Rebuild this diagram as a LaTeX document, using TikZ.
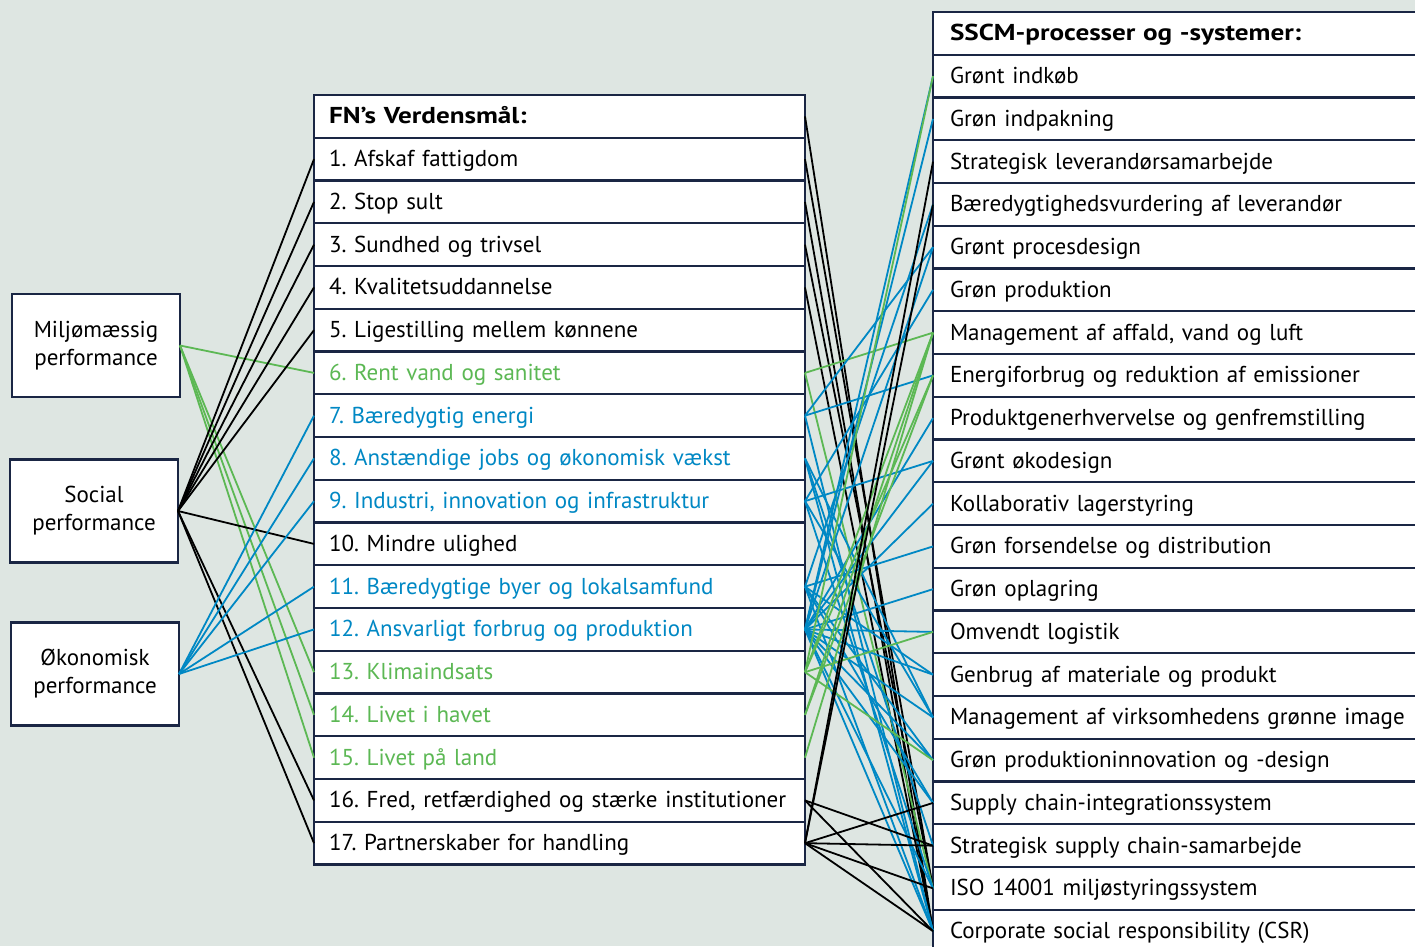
\documentclass[tikz,border=0pt]{standalone}
\usepackage{fontspec}
\setmainfont{PT Sans}
\usepackage{tikz}
\usetikzlibrary{positioning}
\pgfdeclarelayer{back}
\pgfsetlayers{back,main}

\definecolor{navy}{RGB}{26,38,68}
\definecolor{sdggreen}{RGB}{92,184,84}
\definecolor{sdgblue}{RGB}{0,136,196}
\definecolor{paper}{RGB}{222,230,226}
\newcommand{\rowfont}{\fontsize{23}{28}\selectfont\frenchspacing}
\newcommand{\headtxt}[1]{{\bfseries\addfontfeature{FakeStretch=1.18}#1}}

\tikzset{
  rowbox/.style={draw=navy, line width=2.4pt, fill=white, outer sep=0pt, inner xsep=15pt, inner ysep=0pt,
    minimum height=42.75pt, text height=18pt, text depth=3pt, align=left, font=\rowfont},
  fnrow/.style={rowbox, text width=461pt},
  ssrow/.style={rowbox, inner xsep=17pt, text width=490pt},
  dimbox/.style={draw=navy, line width=2.4pt, fill=white, outer sep=0pt, minimum width=168pt,
    minimum height=103pt, align=center, font=\rowfont},
  blackline/.style={draw=black, line width=1.8pt},
  greenline/.style={draw=sdggreen, line width=1.8pt},
  blueline/.style={draw=sdgblue, line width=1.8pt}
}

\begin{document}
\begin{tikzpicture}[x=1pt, y=-1pt]
	\useasboundingbox (0,0) rectangle (1415,946);
	\begin{pgfonlayer}{back}
		\fill [paper] (0,0) rectangle (1415,946);
	\end{pgfonlayer}
	\clip (0,0) rectangle (1415,946);
	
	% dimensioner
	\node [dimbox] (miljo) at (96,345.5) {Miljømæssig\\ performance};
	\node [dimbox] (social) at (94,511) {Social\\ performance};
	\node [dimbox] (okonomi) at (95,674) {Økonomisk\\ performance};
	
	% verdensmaal
	\node [fnrow, anchor=west] (fn0) at (314,116.4) {\headtxt{FN’s Verdensmål:}};
	\node [fnrow, below=0pt of fn0] (fn1) {1. Afskaf fattigdom};
	\node [fnrow, below=0pt of fn1] (fn2) {2. Stop sult};
	\node [fnrow, below=0pt of fn2] (fn3) {3. Sundhed og trivsel};
	\node [fnrow, below=0pt of fn3] (fn4) {4. Kvalitetsuddannelse};
	\node [fnrow, below=0pt of fn4] (fn5) {5. Ligestilling mellem kønnene};
	\node [fnrow, below=0pt of fn5, text=sdggreen] (fn6) {6. Rent vand og sanitet};
	\node [fnrow, below=0pt of fn6, text=sdgblue] (fn7) {7. Bæredygtig energi};
	\node [fnrow, below=0pt of fn7, text=sdgblue] (fn8) {8. Anstændige jobs og økonomisk vækst};
	\node [fnrow, below=0pt of fn8, text=sdgblue] (fn9) {9. Industri, innovation og infrastruktur};
	\node [fnrow, below=0pt of fn9] (fn10) {10. Mindre ulighed};
	\node [fnrow, below=0pt of fn10, text=sdgblue] (fn11) {11. Bæredygtige byer og lokalsamfund};
	\node [fnrow, below=0pt of fn11, text=sdgblue] (fn12) {12. Ansvarligt forbrug og produktion};
	\node [fnrow, below=0pt of fn12, text=sdggreen] (fn13) {13. Klimaindsats};
	\node [fnrow, below=0pt of fn13, text=sdggreen] (fn14) {14. Livet i havet};
	\node [fnrow, below=0pt of fn14, text=sdggreen] (fn15) {15. Livet på land};
	\node [fnrow, below=0pt of fn15] (fn16) {16. Fred, retfærdighed og stærke institutioner};
	\node [fnrow, below=0pt of fn16] (fn17) {17. Partnerskaber for handling};
	
	% sscm
	\node [ssrow, anchor=west] (ss0) at (933,33.4) {\headtxt{SSCM-processer og -systemer:}};
	\node [ssrow, below=0pt of ss0] (ss1) {Grønt indkøb};
	\node [ssrow, below=0pt of ss1] (ss2) {Grøn indpakning};
	\node [ssrow, below=0pt of ss2] (ss3) {Strategisk leverandørsamarbejde};
	\node [ssrow, below=0pt of ss3] (ss4) {Bæredygtighedsvurdering af leverandør};
	\node [ssrow, below=0pt of ss4] (ss5) {Grønt procesdesign};
	\node [ssrow, below=0pt of ss5] (ss6) {Grøn produktion};
	\node [ssrow, below=0pt of ss6] (ss7) {Management af affald, vand og luft};
	\node [ssrow, below=0pt of ss7] (ss8) {Energiforbrug og reduktion af emissioner};
	\node [ssrow, below=0pt of ss8] (ss9) {Produktgenerhvervelse og genfremstilling};
	\node [ssrow, below=0pt of ss9] (ss10) {Grønt økodesign};
	\node [ssrow, below=0pt of ss10] (ss11) {Kollaborativ lagerstyring};
	\node [ssrow, below=0pt of ss11] (ss12) {Grøn forsendelse og distribution};
	\node [ssrow, below=0pt of ss12] (ss13) {Grøn oplagring};
	\node [ssrow, below=0pt of ss13] (ss14) {Omvendt logistik};
	\node [ssrow, below=0pt of ss14] (ss15) {Genbrug af materiale og produkt};
	\node [ssrow, below=0pt of ss15] (ss16) {Management af virksomhedens grønne image};
	\node [ssrow, below=0pt of ss16] (ss17) {Grøn produktioninnovation og -design};
	\node [ssrow, below=0pt of ss17] (ss18) {Supply chain-integrationssystem};
	\node [ssrow, below=0pt of ss18] (ss19) {Strategisk supply chain-samarbejde};
	\node [ssrow, below=0pt of ss19] (ss20) {ISO 14001 miljøstyringssystem};
	\node [ssrow, below=0pt of ss20] (ss21) {Corporate social responsibility (CSR)};
	
	% venstre side
	\draw [greenline] (miljo.east) edge (fn6.west) edge (fn13.west) edge (fn14.west) edge (fn15.west);
	\draw [blackline] (social.east) edge (fn1.west) edge (fn2.west) edge (fn3.west) edge (fn4.west) edge (fn5.west) edge (fn10.west) edge (fn16.west) edge (fn17.west);
	\draw [blueline] (okonomi.east) edge (fn7.west) edge (fn8.west) edge (fn9.west) edge (fn11.west) edge (fn12.west);
	
	% hoejre side
	\draw [blackline] (fn0.east) -- (ss21.west);
	\draw [blackline] (fn1.east) -- (ss20.west);
	\draw [blackline] (fn2.east) -- (ss21.west);
	\draw [blackline] (fn3.east) -- (ss20.west);
	\draw [blackline] (fn4.east) -- (ss21.west);
	\draw [greenline] (fn6.east) edge (ss7.west) edge (ss20.west);
	\draw [blueline] (fn7.east) edge (ss8.west) edge (ss5.west) edge (ss21.west);
	\draw [blueline] (fn8.east) edge (ss16.west) edge (ss19.west) edge (ss21.west);
	\draw [blueline] (fn9.east) edge (ss10.west) edge (ss6.west) edge (ss16.west) edge (ss20.west);
	\draw [blueline] (fn11.east) edge (ss4.west) edge (ss12.west) edge (ss15.west) edge (ss17.west) edge (ss18.west) edge (ss21.west);
	\draw [blueline] (fn12.east) edge (ss1.west) edge (ss2.west) edge (ss5.west) edge (ss9.west) edge (ss10.west) edge (ss11.west) edge (ss13.west) edge (ss14.west) edge (ss15.west) edge (ss16.west) edge (ss17.west) edge (ss18.west) edge (ss20.west) edge (ss21.west);
	\draw [greenline] (fn13.east) edge (ss1.west) edge (ss7.west) edge (ss8.west) edge (ss14.west) edge (ss17.west);
	\draw [greenline] (fn14.east) edge (ss7.west) edge (ss8.west);
	\draw [greenline] (fn15.east) edge (ss7.west);
	\draw [blackline] (fn16.east) edge (ss19.west) edge (ss21.west);
	\draw [blackline] (fn17.east) edge (ss3.west) edge (ss4.west) edge (ss18.west) edge (ss19.west) edge (ss20.west) edge (ss21.west);
	
\end{tikzpicture}
\end{document}
